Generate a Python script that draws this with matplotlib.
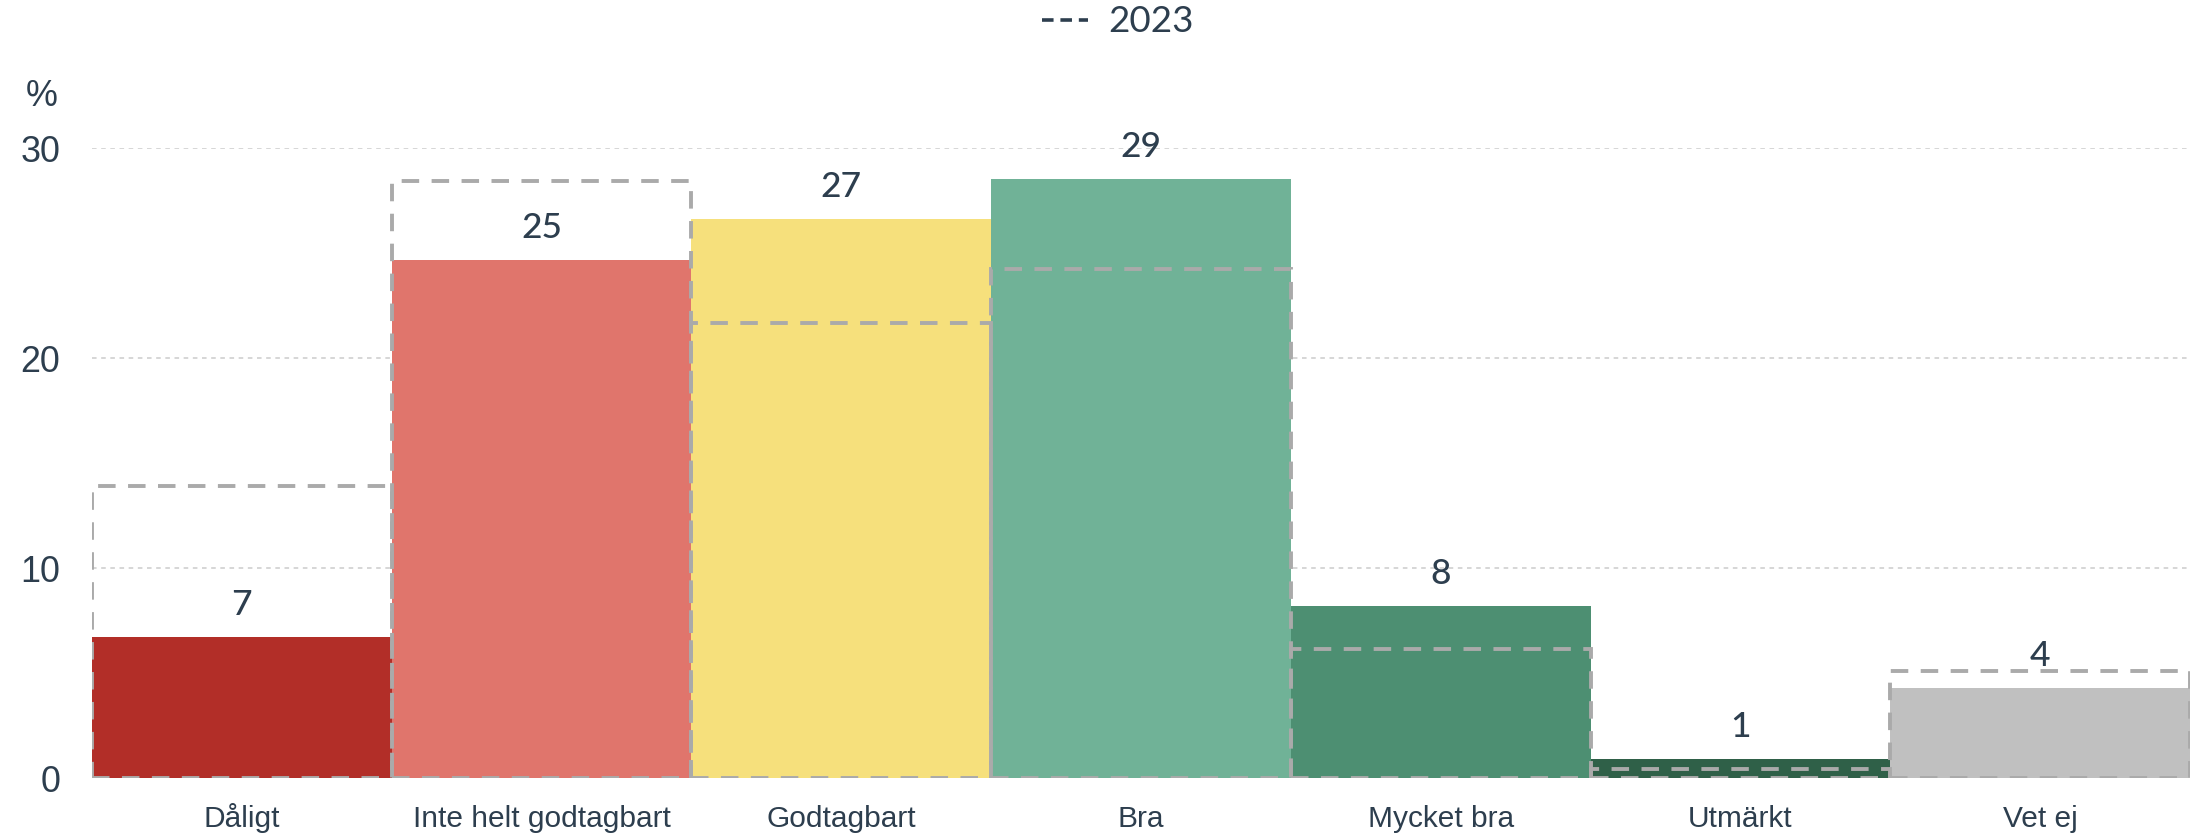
import matplotlib
matplotlib.use("Agg")
import matplotlib.pyplot as plt
from matplotlib.lines import Line2D

categories = ["Dåligt", "Inte helt godtagbart", "Godtagbart", "Bra", "Mycket bra", "Utmärkt", "Vet ej"]
values_2024 = [6.73, 24.68, 26.63, 28.54, 8.21, 0.89, 4.30]
values_2023 = [13.92, 28.43, 21.69, 24.25, 6.16, 0.43, 5.09]
bar_colors = ["#b22e28", "#e0756c", "#f6e07c", "#70b297", "#4d8f72", "#2f6048", "#c0c0c0"]
yticks = [0, 10, 20, 30]

txt = "#2d3e4e"
W, H = 2196, 835
fig = plt.figure(figsize=(W / 100, H / 100), dpi=100)
ax = fig.add_axes([92 / W, 57 / H, 2098 / W, (778 - 148.5) / H])

x = list(range(len(categories)))
ax.bar(x, values_2024, width=1.0, color=bar_colors, zorder=2, linewidth=0)
ax.bar(x, values_2023, width=1.0, fill=False, edgecolor="#aaaaaa", linewidth=2.8,
       linestyle=(0, (4.5, 3.2)), zorder=3)

for xi, v in zip(x, values_2024):
    ax.annotate(f"{round(v)}", (xi, v), xytext=(0, 16), textcoords="offset points",
                ha="center", va="baseline", fontsize=25.5, color=txt, fontweight="medium",
                family=["Lato", "DejaVu Sans"], zorder=5, annotation_clip=False)

ax.set_xlim(-0.5, len(categories) - 0.5)
ax.set_ylim(0, 30)
ax.set_yticks(yticks)
ax.set_xticks(x)
ax.set_xticklabels(categories, fontsize=21.5, color=txt, family="Liberation Sans", va="baseline")
ax.set_yticklabels([str(t) for t in yticks], fontsize=25.8, color=txt, family="Liberation Sans")
ax.tick_params(axis="both", length=0)
ax.tick_params(axis="y", pad=23)
ax.tick_params(axis="x", pad=35)
for s in ax.spines.values():
    s.set_visible(False)
ax.set_axisbelow(True)
ax.grid(axis="y", color="#cccccc", linestyle=(0, (3, 3)), linewidth=1.1, zorder=0)
ax.grid(axis="x", visible=False)

fig.text(42 / W, 1 - 97 / H, "%", ha="center", va="center", fontsize=25.8, color=txt,
         family="Liberation Sans")

handle = Line2D([], [], color=txt, linewidth=2.6, linestyle=(0, (3.2, 1.9)))
fig.legend([handle], ["2023"], loc="center left", bbox_to_anchor=(1042 / W, 1 - 22 / H),
           frameon=False, handlelength=1.25, handletextpad=0.55,
           borderpad=0, borderaxespad=0, labelcolor=txt, prop={"family": "Lato", "size": 26.5})

fig.savefig("out.png", dpi=100)
